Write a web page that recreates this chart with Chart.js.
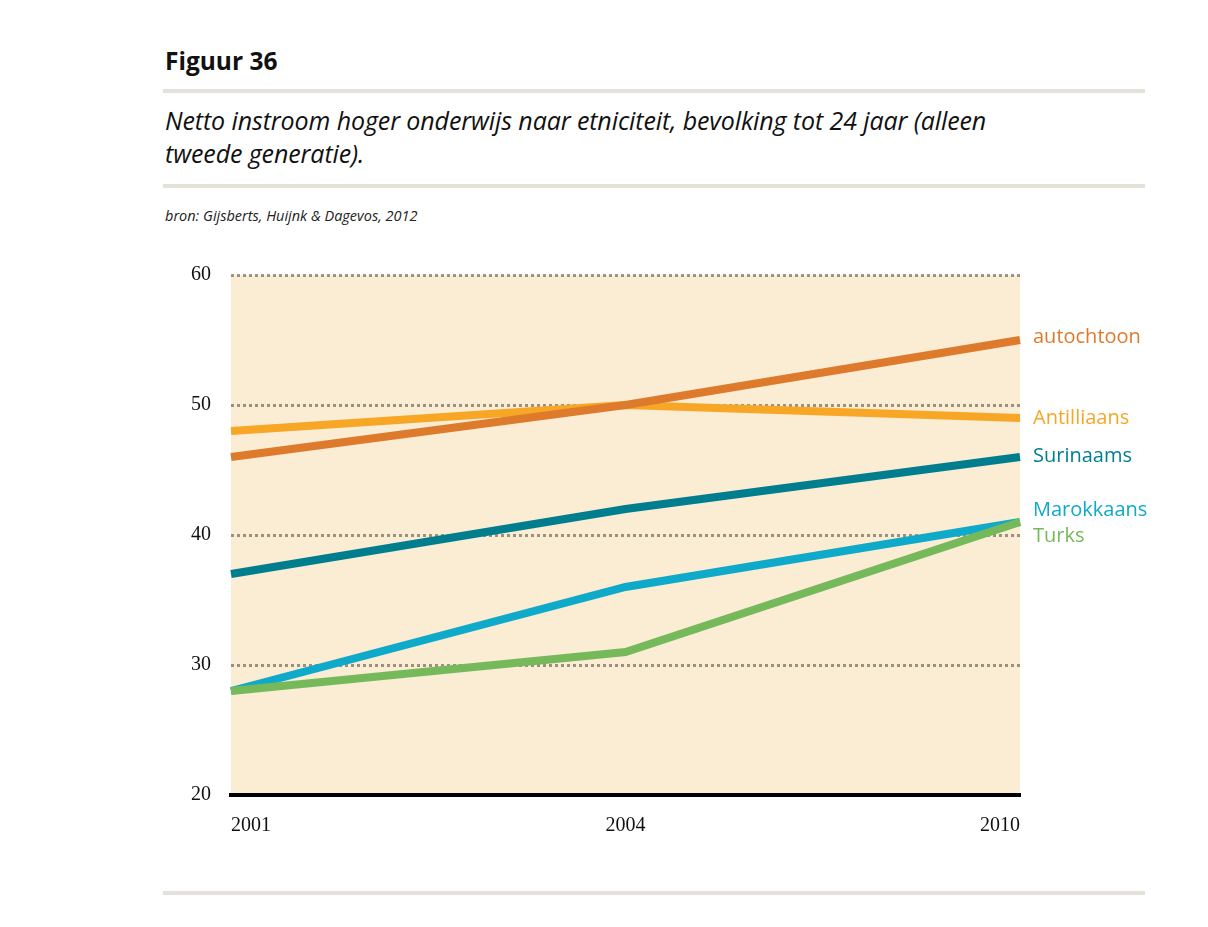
<!DOCTYPE html>
<html>
<head>
<meta charset="utf-8">
<script src="https://cdn.jsdelivr.net/npm/chart.js@4/dist/chart.umd.min.js"></script>
<style>
    body { margin: 0; background: #fff; width: 1208px; height: 927px; position: relative; overflow: hidden; font-family: "Open Sans", sans-serif; }
    .rule { position: absolute; left: 163px; width: 982px; height: 4px; background: #e4e2d8; }
    #title { position: absolute; left: 165px; top: 44px; font-size: 24.5px; font-weight: bold; color: #111; }
    #subtitle { position: absolute; left: 165px; top: 104px; font-size: 25px; font-style: italic; line-height: 33px; color: #111; letter-spacing: -0.1px; }
    #source { position: absolute; left: 165px; top: 206px; font-size: 14.5px; font-style: italic; color: #222; }
    #wrap { position: absolute; left: 150px; top: 243px; width: 1058px; height: 617px; }
</style>
</head>
<body>
<div id="title">Figuur 36</div>
<div class="rule" style="top:89px"></div>
<div id="subtitle">Netto instroom hoger onderwijs naar etniciteit, bevolking tot 24 jaar (alleen<br>tweede generatie).</div>
<div class="rule" style="top:184px"></div>
<div id="source">bron: Gijsberts, Huijnk &amp; Dagevos, 2012</div>
<div id="wrap"><canvas id="chart" width="1058" height="617"></canvas></div>
<div class="rule" style="top:891px"></div>

<script>
const years = ["2001", "2004", "2010"];
const autochtoon = [46, 50, 55];
const antilliaans = [48, 50, 49];
const surinaams = [37, 42, 46];
const marokkaans = [28, 36, 41];
const turks = [28, 31, 41];

const series = [
    { label: "autochtoon", data: autochtoon, color: "#de7a2c", order: 1 },
    { label: "Antilliaans", data: antilliaans, color: "#f7a725", order: 2 },
    { label: "Surinaams", data: surinaams, color: "#007e8e", order: 3 },
    { label: "Marokkaans", data: marokkaans, color: "#0fa9c9", order: 5 },
    { label: "Turks", data: turks, color: "#75b95b", order: 4 }
];

// pixel nudges for the end labels so Marokkaans/Turks don't collide
const labelNudge = { autochtoon: -3, Antilliaans: 0, Surinaams: -1, Marokkaans: -12, Turks: 14 };

const plotBackground = {
    id: "plotBackground",
    beforeDraw(chart) {
        const { ctx, chartArea } = chart;
        ctx.save();
        ctx.fillStyle = "#fbecd4";
        ctx.fillRect(chartArea.left, chartArea.top, chartArea.right - chartArea.left, chartArea.bottom - chartArea.top);
        ctx.restore();
    }
};

const endLabels = {
    id: "endLabels",
    afterDraw(chart) {
        const { ctx, chartArea } = chart;
        ctx.save();
        ctx.font = "20px 'Open Sans', sans-serif";
        ctx.textBaseline = "middle";
        ctx.textAlign = "left";
        chart.data.datasets.forEach((ds, i) => {
            const meta = chart.getDatasetMeta(i);
            const last = meta.data[meta.data.length - 1];
            ctx.fillStyle = ds.borderColor;
            ctx.fillText(ds.label, chartArea.right + 13, last.y + (labelNudge[ds.label] || 0));
        });
        ctx.restore();
    }
};

new Chart(document.getElementById("chart"), {
    type: "line",
    data: {
        labels: years,
        datasets: series.map(s => ({
            label: s.label,
            data: s.data,
            borderColor: s.color,
            borderWidth: 8,
            pointRadius: 0,
            tension: 0,
            order: s.order,
            borderCapStyle: "butt"
        }))
    },
    options: {
        responsive: false,
        animation: false,
        layout: { padding: { top: 8, right: 188, left: 0, bottom: 0 } },
        scales: {
            x: {
                offset: false,
                grid: { display: false, drawTicks: false },
                border: { display: true, color: "#000", width: 4, z: 2 },
                ticks: {
                    align: "inner",
                    color: "#111",
                    padding: 19,
                    font: { family: "'Liberation Serif', serif", size: 20 }
                },
                afterFit(scale) { scale.height = 65; }
            },
            y: {
                min: 20,
                max: 60,
                z: 1,
                grid: {
                    color: ctx => ctx.tick && ctx.tick.value === 20 ? "rgba(0,0,0,0)" : "rgba(80,70,55,0.55)",
                    lineWidth: 3,
                    drawTicks: false,
                    tickLength: 0
                },
                border: { display: false, dash: [3, 3] },
                ticks: {
                    stepSize: 10,
                    color: "#111",
                    padding: 20,
                    font: { family: "'Liberation Serif', serif", size: 20 }
                },
                afterFit(scale) { scale.width = 81; }
            }
        },
        plugins: {
            legend: { display: false },
            tooltip: { enabled: false }
        }
    },
    plugins: [plotBackground, endLabels]
});
</script>
</body>
</html>
